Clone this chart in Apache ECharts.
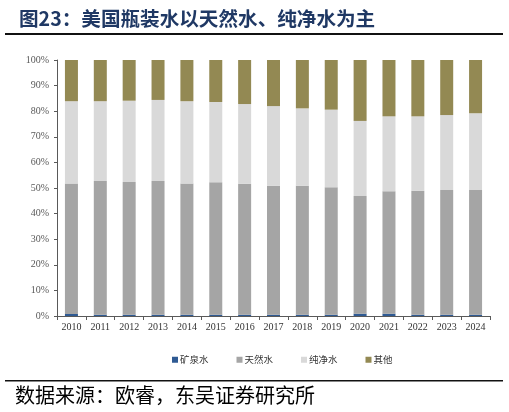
<!DOCTYPE html>
<html>
<head>
<meta charset="utf-8">
<script src="https://cdn.jsdelivr.net/npm/echarts@6/dist/echarts.min.js"></script>
<style>
html,body{margin:0;padding:0;background:#fff;}
#c{width:509px;height:412px;}
</style>
</head>
<body>
<div id="c"></div>
<script>
var years = ['2010','2011','2012','2013','2014','2015','2016','2017','2018','2019','2020','2021','2022','2023','2024'];
var mineral  = [0.8,0.5,0.5,0.5,0.5,0.5,0.5,0.5,0.5,0.5,0.9,0.9,0.5,0.5,0.5];
var natural  = [51.0,52.2,51.8,52.2,51.3,51.7,51.2,50.4,50.4,49.8,46.0,47.8,48.4,48.7,48.7];
var purified = [32.1,31.2,31.8,31.7,32.1,31.4,31.1,31.1,30.2,30.3,29.3,29.3,29.1,29.3,30.0];
var others   = [16.1,16.1,15.9,15.6,16.1,16.4,17.2,18.0,18.9,19.4,23.8,22.0,22.0,21.5,20.8];
var seriesNames = ['矿泉水','天然水','纯净水','其他'];
var seriesColors = ['#2F5A93','#A5A5A5','#D9D9D9','#938953'];
var seriesData = [mineral, natural, purified, others];

var chart = echarts.init(document.getElementById('c'), null, {renderer:'canvas'});
var series = seriesNames.map(function(n, i){
  return {
    name: n, type: 'bar', stack: 'total', barWidth: 13,
    data: seriesData[i],
    itemStyle: {color: seriesColors[i]}
  };
});
chart.setOption({
  animation: false,
  backgroundColor: '#fff',
  title: {
    text: '图23：美国瓶装水以天然水、纯净水为主',
    left: 14, top: 4,
    textStyle: {fontFamily: 'Noto Sans CJK SC', fontWeight: 'bold', fontSize: 19.6, color: '#1F3864'}
  },
  graphic: [
    {type: 'rect', shape: {x: 5, y: 33, width: 498, height: 2}, style: {fill: '#111'}},
    {type: 'rect', shape: {x: 5, y: 380, width: 498, height: 1.5}, style: {fill: '#111'}},
    {type: 'text', left: 15, top: 385, style: {text: '数据来源：欧睿，东吴证券研究所', font: '20px "Noto Sans CJK SC"', fill: '#000'}}
  ],
  legend: {
    data: seriesNames,
    top: 350, left: 167,
    itemWidth: 6, itemHeight: 6, itemGap: 28,
    icon: 'rect',
    textStyle: {fontSize: 9.5, color: '#333', fontFamily: 'Noto Sans CJK SC', padding: [0,0,0,-3]}
  },
  grid: {left: 57, right: 19, top: 60, bottom: 96},
  xAxis: {
    type: 'category', data: years,
    axisLine: {lineStyle: {color: '#595959', width: 1}},
    axisTick: {show: true, alignWithLabel: false, length: 4, lineStyle: {color: '#595959'}},
    axisLabel: {fontFamily: 'Liberation Serif', fontSize: 10, color: '#333', margin: 6, interval: 0}
  },
  yAxis: {
    type: 'value', min: 0, max: 100, interval: 10,
    axisLine: {show: true, lineStyle: {color: '#595959', width: 1}},
    axisTick: {show: true, length: 3, lineStyle: {color: '#595959'}},
    splitLine: {show: false},
    axisLabel: {formatter: '{value}%', fontFamily: 'Liberation Serif', fontSize: 10, color: '#595959', margin: 8}
  },
  series: series
});
</script>
</body>
</html>
